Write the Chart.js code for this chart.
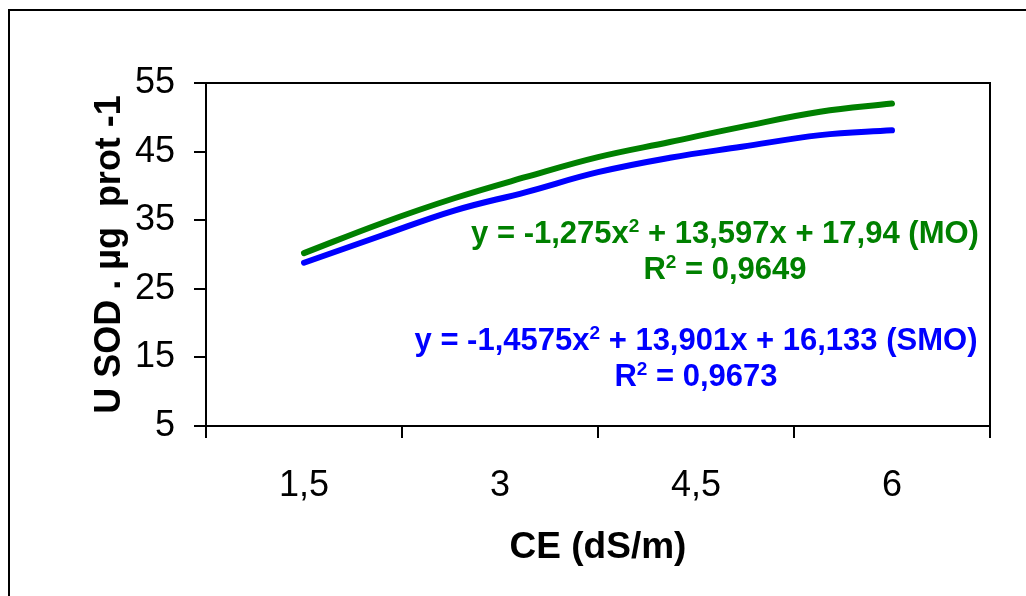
<!doctype html>
<html lang="es">
  <head>
    <meta charset="utf-8">
    <title>U SOD vs CE</title>
    <style>
        * { margin: 0; padding: 0; box-sizing: border-box; }
        html, body { width: 1026px; height: 596px; overflow: hidden; background: #fff; }
        body { position: relative; font-family: 'Liberation Sans', Arial, sans-serif; }
        #marco { position: absolute; left: 8px; top: 9px; width: 1100px; height: 700px; border: 2px solid #000; }
        #grafico { position: absolute; left: 0; top: 0; }
        .eq { position: absolute; transform: translateX(-50%); text-align: center; white-space: nowrap;
              font-weight: bold; font-size: 31px; line-height: 36px; }
        .eq sup { font-size: 19px; vertical-align: 11px; line-height: 0; }
        #eq-mo { left: 725px; top: 215px; color: #008000; }
        #eq-smo { left: 696px; top: 322px; color: #0000ff; }
    </style>
  </head>
  <body>
    <div id="marco"></div>
    <canvas id="grafico" width="1026" height="596"></canvas>
    <div class="eq" id="eq-mo">y = -1,275x<sup>2</sup> + 13,597x + 17,94 (MO)<br>R<sup>2</sup> = 0,9649</div>
    <div class="eq" id="eq-smo">y = -1,4575x<sup>2</sup> + 13,901x + 16,133 (SMO)<br>R<sup>2</sup> = 0,9673</div>

    <script src="https://cdn.jsdelivr.net/npm/chart.js@4.4.1/dist/chart.umd.min.js"></script>
    <script>
      // valores
      const ce = [1.5, 2.1, 2.65, 3.2, 3.75, 4.3, 4.85, 5.45, 6.0];
      const sodMO = [30.2, 34.6, 38.2, 41.3, 44.2, 46.4, 48.6, 50.8, 52.0];
      const sodSMO = [28.8, 32.8, 36.4, 39.1, 42.0, 44.1, 45.7, 47.4, 48.1];
      const xLabels = [1.5, 3, 4.5, 6];
      const yTicks = [5, 15, 25, 35, 45, 55];

      const esEtiqueta = v => xLabels.some(l => Math.abs(l - v) < 0.01);
      const pares = ys => ce.map((x, i) => ({ x: x, y: ys[i] }));

      Chart.defaults.font.family = "'Liberation Sans', Arial, sans-serif";
      Chart.defaults.color = '#000';

      // borde del area de trazado
      const bordeArea = {
        id: 'bordeArea',
        beforeDatasetsDraw(chart) {
          const a = chart.chartArea, c = chart.ctx;
          c.save();
          c.strokeStyle = '#000';
          c.lineWidth = 2;
          c.strokeRect(a.left, a.top, a.right - a.left, a.bottom - a.top);
          c.restore();
        }
      };

      new Chart(document.getElementById('grafico'), {
        type: 'line',
        data: {
          datasets: [
            { label: 'MO', data: pares(sodMO), borderColor: '#008000', borderWidth: 6,
              pointRadius: 0, tension: 0.4, borderCapStyle: 'round', fill: false },
            { label: 'SMO', data: pares(sodSMO), borderColor: '#0000ff', borderWidth: 6,
              pointRadius: 0, tension: 0.4, borderCapStyle: 'round', fill: false }
          ]
        },
        options: {
          responsive: false,
          animation: false,
          layout: { padding: { top: 83, right: 36, left: 0, bottom: 0 } },
          plugins: { legend: { display: false }, tooltip: { enabled: false } },
          scales: {
            x: {
              type: 'linear',
              min: 0.75,
              max: 6.75,
              afterFit: s => { s.height = 170; },
              border: { color: '#000', width: 2 },
              grid: {
                drawOnChartArea: false,
                tickLength: 12,
                lineWidth: 2,
                color: '#000',
                tickColor: ctx => esEtiqueta(ctx.tick.value) ? 'rgba(0,0,0,0)' : '#000'
              },
              ticks: {
                stepSize: 0.75,
                autoSkip: false,
                maxRotation: 0,
                padding: 26,
                font: { size: 36 },
                callback: v => esEtiqueta(v) ? String(Math.round(v * 10) / 10).replace('.', ',') : ''
              },
              title: {
                display: true,
                text: 'CE (dS/m)',
                font: { size: 37, weight: 'bold' },
                padding: { top: 0, bottom: 26 }
              }
            },
            y: {
              min: 5,
              max: 55,
              afterFit: s => { s.width = 206; },
              afterBuildTicks: s => { s.ticks = yTicks.map(v => ({ value: v })); },
              border: { color: '#000', width: 2 },
              grid: { drawOnChartArea: false, tickLength: 12, lineWidth: 2, color: '#000' },
              ticks: { padding: 19, font: { size: 36 } },
              title: {
                display: true,
                text: 'U SOD . \u00b5g  prot -1',
                font: { size: 36, weight: 'bold' },
                padding: { top: 88, bottom: 0 }
              }
            }
          }
        },
        plugins: [bordeArea]
      });
    </script>
  </body>
</html>
